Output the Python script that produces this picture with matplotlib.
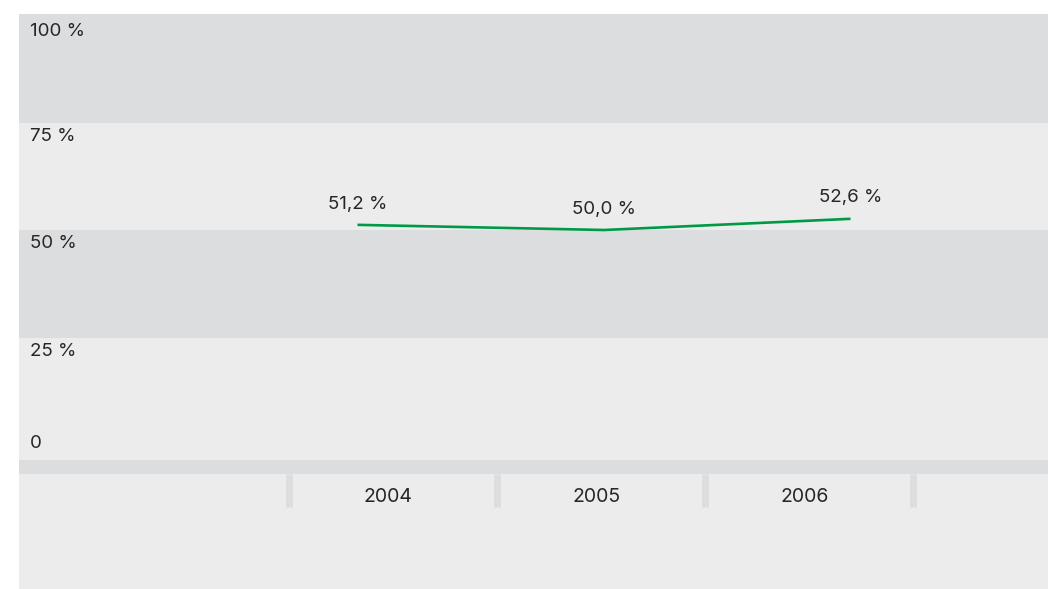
import matplotlib
matplotlib.use("Agg")
import matplotlib.pyplot as plt
import matplotlib.transforms as mtransforms

plt.rcParams['font.family'] = ['Inter', 'DejaVu Sans']

# data
years = ['2004', '2005', '2006']
share = [51.2, 50.0, 52.6]
y_ticks = [0, 25, 50, 75, 100]
y_tick_labels = ['0', '25 %', '50 %', '75 %', '100 %']

C_DARK = '#dcdddf'
C_LIGHT = '#ebeceb'
C_LINE = '#009a47'
C_TEXT = '#262626'

W, H = 1048, 589
fig = plt.figure(figsize=(W / 100, H / 100), dpi=100)

# ── plot area ────────────────────────────────────────────────────────────────
top_px, bot_px, left_px = 14, 460, 19
ax = fig.add_axes([left_px / W, (H - bot_px) / H, (W - left_px) / W, (bot_px - top_px) / H])
ax.set_facecolor(C_LIGHT)
px_per_unit = 4.3           # vertical pixels per percent
ax.set_ylim(-15 / px_per_unit, 100 + 1 / px_per_unit)
x_step = 246.5
ax.set_xlim(-(357.5 - left_px) / x_step, (W - 357.5) / x_step)
ymax = ax.get_ylim()[1]
ax.axhspan(75, ymax, color=C_DARK, lw=0)
ax.axhspan(25, 50, color=C_DARK, lw=0)
for s in ax.spines.values():
    s.set_visible(False)
ax.set_xticks([])
ax.set_yticks([])

# tick labels sit just inside the band below each gridline
lbl_tr = mtransforms.blended_transform_factory(ax.transAxes, ax.transData)
lbl_offsets = {100: -17, 75: -14, 50: -14, 25: -14, 0: 2}
for v, t in zip(y_ticks, y_tick_labels):
    ax.annotate(t, xy=(11 / (W - left_px), v), xycoords=lbl_tr,
                xytext=(0, lbl_offsets[v] * 0.72), textcoords='offset points',
                ha='left', va='center', fontsize=13.5, color=C_TEXT)

xs = list(range(len(years)))
ax.plot(xs, share, color=C_LINE, lw=1.9, solid_capstyle='butt')
for x, v in zip(xs, share):
    ax.annotate(f"{v:.1f} %".replace('.', ','), xy=(x, v),
                xytext=(0, 15), textcoords='offset points',
                ha='center', va='center', fontsize=13.5, color=C_TEXT)

# ── category strip ───────────────────────────────────────────────────────────
bx = fig.add_axes([left_px / W, 0, (W - left_px) / W, (H - bot_px) / H])
bx.set_facecolor(C_LIGHT)
cat_step = 208
bx.set_xlim(-(392.5 - left_px) / cat_step, (W - 392.5) / cat_step)
bx.set_ylim(0, 1)
strip_h = H - bot_px
bx.axhspan(1 - 14 / strip_h, 1, color=C_DARK, lw=0)
seps = [i - 0.5 for i in range(len(years) + 1)]
sep_tr = mtransforms.blended_transform_factory(bx.transData, bx.transAxes)
bx.vlines(seps, 1 - 47 / strip_h, 1 - 14 / strip_h, transform=sep_tr,
          colors=C_DARK, lw=5)
for i, y in enumerate(years):
    bx.annotate(y, xy=(i, 1 - 37 / strip_h), xycoords=sep_tr,
                xytext=(-3, 0), textcoords='offset points',
                ha='center', va='center', fontsize=14, color=C_TEXT)
for s in bx.spines.values():
    s.set_visible(False)
bx.set_xticks([])
bx.set_yticks([])

fig.savefig('out.png', dpi=100)
